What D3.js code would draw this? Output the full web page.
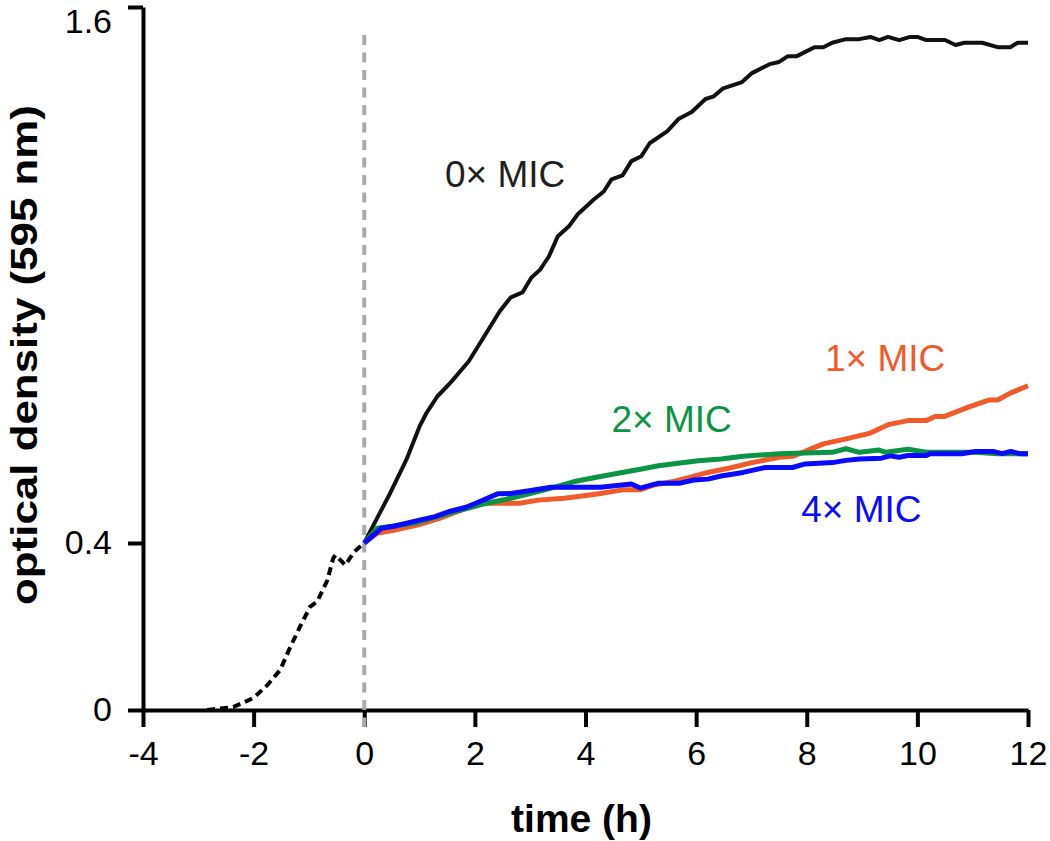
<!DOCTYPE html>
<html>
<head>
<meta charset="utf-8">
<script src="https://cdn.jsdelivr.net/npm/d3@7"></script>
<style>
  html, body { margin: 0; padding: 0; background: #fff; }
  svg { display: block; }
  text { font-family: "Liberation Sans", Arial, Helvetica, sans-serif; }
</style>
</head>
<body>
<svg id="chart" width="1050" height="841"></svg>
<script>
// ---- data ----
const timeTicks = [-4, -2, 0, 2, 4, 6, 8, 10, 12];
const odTicks = [0, 0.4, 1.6];
const odTickLabels = ["0", "0.4", "1.6"];

// pre-treatment growth (dashed)
const preTime = [-2.84, -2.37, -2.0, -1.75, -1.52, -1.34, -1.16, -0.98, -0.85, -0.67, -0.56, -0.52, -0.34, -0.19, 0];
const preOD   = [0, 0.007, 0.029, 0.06, 0.096, 0.15, 0.2, 0.247, 0.26, 0.31, 0.364, 0.371, 0.347, 0.378, 0.40];

// 0x MIC
const time0 = [0, 0.23, 0.47, 0.76, 1.0, 1.12, 1.32, 1.56, 1.89, 2.17, 2.45, 2.65, 2.86, 3.02, 3.18, 3.34, 3.50, 3.70, 3.86, 4.15, 4.33, 4.47, 4.67, 4.83, 5.01, 5.16, 5.48, 5.68, 5.92, 6.17, 6.32, 6.49, 6.83, 7.01, 7.33, 7.50, 7.66, 7.82, 8.14, 8.30, 8.46, 8.71, 8.95, 9.15, 9.31, 9.47, 9.67, 9.87, 10.0, 10.16, 10.5, 10.69, 10.85, 11.17, 11.45, 11.68, 11.81, 12.0];
const od0   = [0.40, 0.455, 0.512, 0.586, 0.661, 0.69, 0.728, 0.759, 0.807, 0.863, 0.919, 0.95, 0.961, 0.994, 1.012, 1.042, 1.087, 1.109, 1.136, 1.169, 1.187, 1.214, 1.223, 1.255, 1.266, 1.295, 1.322, 1.349, 1.365, 1.394, 1.40, 1.418, 1.432, 1.452, 1.472, 1.477, 1.49, 1.49, 1.51, 1.51, 1.52, 1.528, 1.528, 1.533, 1.526, 1.533, 1.526, 1.533, 1.533, 1.526, 1.526, 1.515, 1.52, 1.52, 1.51, 1.51, 1.52, 1.52];

// 1x MIC
const time1 = [0, 0.23, 0.55, 0.96, 1.36, 1.76, 2.17, 2.81, 3.14, 3.62, 3.94, 4.27, 4.67, 4.99, 5.24, 5.56, 5.88, 6.21, 6.61, 7.01, 7.50, 7.74, 7.97, 8.30, 8.71, 9.15, 9.47, 9.83, 10.16, 10.32, 10.48, 10.96, 11.29, 11.45, 11.69, 12.0];
const od1   = [0.40, 0.422, 0.429, 0.44, 0.455, 0.474, 0.489, 0.489, 0.496, 0.50, 0.505, 0.511, 0.519, 0.519, 0.53, 0.537, 0.547, 0.558, 0.568, 0.58, 0.592, 0.594, 0.605, 0.622, 0.633, 0.646, 0.665, 0.674, 0.674, 0.683, 0.683, 0.706, 0.72, 0.72, 0.736, 0.752];

// 2x MIC
const time2 = [0, 0.23, 0.55, 0.96, 1.36, 1.76, 2.17, 2.57, 2.98, 3.38, 3.78, 3.94, 4.27, 4.59, 4.99, 5.32, 5.71, 6.04, 6.45, 6.85, 7.50, 8.46, 8.71, 8.95, 9.31, 9.43, 9.83, 10.16, 11.05, 11.45, 12.0];
const od2   = [0.40, 0.433, 0.438, 0.446, 0.461, 0.474, 0.488, 0.498, 0.51, 0.523, 0.537, 0.541, 0.549, 0.556, 0.565, 0.573, 0.579, 0.584, 0.588, 0.594, 0.60, 0.603, 0.611, 0.603, 0.608, 0.603, 0.61, 0.603, 0.603, 0.60, 0.60];

// 4x MIC
const time4 = [0, 0.31, 0.55, 0.96, 1.28, 1.52, 1.84, 2.09, 2.41, 2.65, 2.98, 3.38, 3.78, 4.27, 4.83, 4.99, 5.32, 5.71, 5.96, 6.21, 6.45, 6.85, 7.25, 7.74, 7.97, 8.46, 8.71, 8.95, 9.35, 9.51, 9.67, 9.83, 10.16, 10.23, 10.80, 11.05, 11.37, 11.53, 11.69, 11.85, 12.0];
const od4   = [0.40, 0.433, 0.438, 0.45, 0.459, 0.47, 0.48, 0.493, 0.51, 0.511, 0.517, 0.525, 0.525, 0.525, 0.532, 0.523, 0.534, 0.534, 0.541, 0.543, 0.55, 0.558, 0.569, 0.569, 0.577, 0.58, 0.585, 0.588, 0.59, 0.595, 0.592, 0.596, 0.596, 0.60, 0.60, 0.605, 0.605, 0.60, 0.605, 0.60, 0.60];

const seriesNames  = ["0× MIC", "1× MIC", "2× MIC", "4× MIC"];
const seriesColors = ["#111111", "#f15a29", "#0b9444", "#0a0aff"];
const labelTime    = [1.46, 8.33, 4.47, 7.90];
const labelOD      = [1.196, 0.784, 0.649, 0.447];

// ---- drawing ----
const svg = d3.select("#chart");
const x = d3.scaleLinear().domain([-4, 12]).range([143, 1028]);
const y = d3.scaleLinear().domain([0, 0.4, 1.6]).range([710, 543, 7]);

const FONT = '"Liberation Sans", Arial, Helvetica, sans-serif';

// x axis
const xAxis = svg.append("g").attr("transform", `translate(0,${y(0)})`)
  .call(d3.axisBottom(x).tickValues(timeTicks).tickSize(17).tickSizeOuter(0).tickPadding(14)
    .tickFormat(d => d3.format("d")(d).replace("−", "-")));
xAxis.select(".domain").attr("stroke", "#000").attr("stroke-width", 4);
xAxis.selectAll(".tick line").attr("stroke", "#000").attr("stroke-width", 4);
xAxis.selectAll(".tick text").attr("font-size", 34).attr("font-family", FONT).attr("fill", "#000");

// y axis
const yAxis = svg.append("g").attr("transform", `translate(${x(-4)},0)`)
  .call(d3.axisLeft(y).tickValues(odTicks).tickSize(15).tickSizeOuter(0).tickPadding(16)
    .tickFormat((d, i) => odTickLabels[i]));
yAxis.select(".domain").attr("stroke", "#000").attr("stroke-width", 4);
yAxis.selectAll(".tick line").attr("stroke", "#000").attr("stroke-width", 4);
yAxis.selectAll(".tick text").attr("font-size", 34).attr("font-family", FONT).attr("fill", "#000")
  .attr("dy", d => d === 1.6 ? "0.75em" : "0.32em");

// dashed treatment marker at t = 0
svg.append("line")
  .attr("x1", x(0)).attr("x2", x(0))
  .attr("y1", y(1.6) + 28).attr("y2", y(0) + 17)
  .attr("stroke", "#aaaaaa").attr("stroke-width", 4)
  .attr("stroke-dasharray", "10,7.5");

const line = d3.line().x(d => x(d[0])).y(d => y(d[1])).curve(d3.curveLinear);

// pre-treatment dashed curve
svg.append("path")
  .datum(d3.zip(preTime, preOD))
  .attr("d", line)
  .attr("fill", "none").attr("stroke", "#000").attr("stroke-width", 4)
  .attr("stroke-dasharray", "8,5");

const series = [
  d3.zip(time0, od0),
  d3.zip(time1, od1),
  d3.zip(time2, od2),
  d3.zip(time4, od4)
];
const widths = [4, 5, 5, 5];
[0, 1, 2, 3].forEach(i => {
  svg.append("path")
    .datum(series[i])
    .attr("d", line)
    .attr("fill", "none")
    .attr("stroke", seriesColors[i])
    .attr("stroke-width", widths[i])
    .attr("stroke-linejoin", "round");
});

// series labels
seriesNames.forEach((name, i) => {
  svg.append("text")
    .attr("x", x(labelTime[i])).attr("y", y(labelOD[i]))
    .attr("font-size", 37).attr("font-family", FONT)
    .attr("fill", i === 0 ? "#231f20" : seriesColors[i])
    .text(name);
});

// axis titles
svg.append("text")
  .attr("x", (x(-4) + x(12)) / 2 - 4).attr("y", 832)
  .attr("text-anchor", "middle")
  .attr("font-size", 39).attr("font-weight", "bold").attr("font-family", FONT)
  .text("time (h)");

svg.append("text")
  .attr("transform", "translate(37,355) rotate(-90)")
  .attr("text-anchor", "middle")
  .attr("font-size", 37).attr("font-weight", "bold").attr("font-family", FONT)
  .attr("textLength", 500).attr("lengthAdjust", "spacingAndGlyphs")
  .text("optical density (595 nm)");
</script>
</body>
</html>
